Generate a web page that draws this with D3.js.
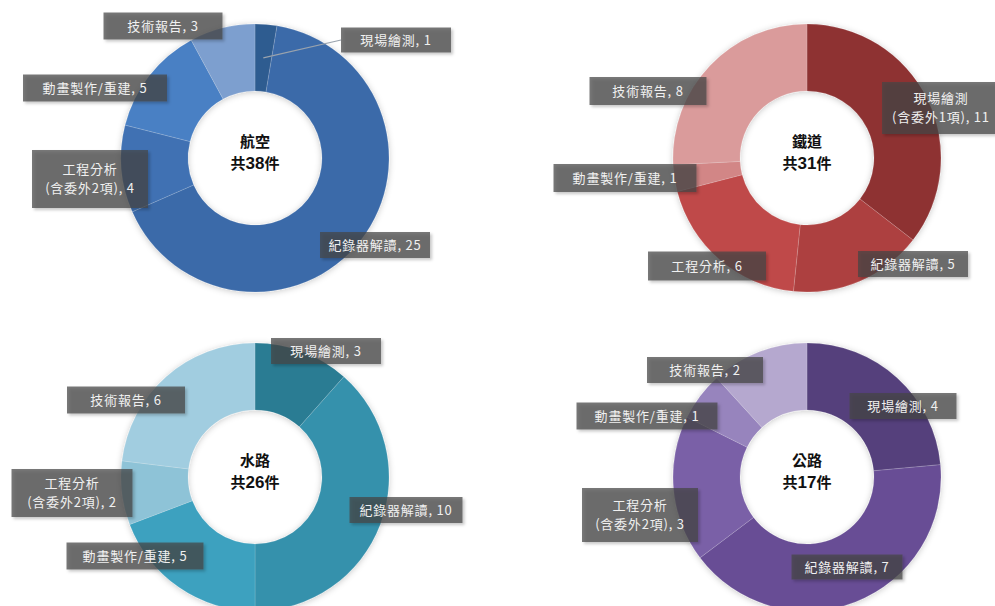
<!DOCTYPE html>
<html>
<head>
<meta charset="utf-8">
<script src="https://cdn.jsdelivr.net/npm/d3@7"></script>
<style>
  html, body { margin: 0; padding: 0; background: #fff; }
  svg { display: block; font-family: "Noto Sans CJK TC", "Noto Sans", sans-serif; }
</style>
</head>
<body>
<div id="chart"></div>
<script>
// chart values
const modes = ["航空", "鐵道", "水路", "公路"];

const aviationLabels = ["現場繪測", "紀錄器解讀", "工程分析\n(含委外2項)", "動畫製作/重建", "技術報告"];
const aviationValues = [1, 25, 4, 5, 3];

const railLabels = ["現場繪測\n(含委外1項)", "紀錄器解讀", "工程分析", "動畫製作/重建", "技術報告"];
const railValues = [11, 5, 6, 1, 8];

const waterLabels = ["現場繪測", "紀錄器解讀", "動畫製作/重建", "工程分析\n(含委外2項)", "技術報告"];
const waterValues = [3, 10, 5, 2, 6];

const roadLabels = ["現場繪測", "紀錄器解讀", "工程分析\n(含委外2項)", "動畫製作/重建", "技術報告"];
const roadValues = [4, 7, 3, 1, 2];

// styling / layout
const palettes = [
    ["#2e5b90", "#3b6aa9", "#3f71b3", "#4a80c4", "#7d9fcf"],
    ["#8e3233", "#ad403f", "#bf4a4a", "#d28686", "#da9b9b"],
    ["#2b7c93", "#3691ac", "#3ca1bf", "#8ec3d7", "#a1cde0"],
    ["#55417c", "#684e95", "#7a60a7", "#9784bd", "#b5a8cf"]
];

// label boxes, relative to donut center: [dx, dy, width, height, leader]
const labelBoxes = [
    [[141, -118, 110, 25, true], [120, 87, 110, 26], [-165, 21, 116, 58], [-160, -70, 144, 27], [-92, -132, 119, 27]],
    [[134, -50, 118, 52], [106, 106, 110, 26], [-100, 108, 118, 29], [-182, 20, 143, 28], [-159, -67, 117, 28]],
    [[71, -126, 110, 26], [151, 33, 113, 26], [-120, 79, 137, 27], [-183, 16, 121, 48], [-129, -77, 118, 27]],
    [[96, -71, 107, 26], [40, 90, 111, 25], [-167, 38, 116, 54], [-160, -61, 141, 27], [-102, -107, 116, 26]]
];

const charts = [
    {name: modes[0], labels: aviationLabels, values: aviationValues},
    {name: modes[1], labels: railLabels, values: railValues},
    {name: modes[2], labels: waterLabels, values: waterValues},
    {name: modes[3], labels: roadLabels, values: roadValues}
];

const width = 995, height = 606;
const outerR = 134, innerR = 67;
const colX = d3.scalePoint().domain([0, 1]).range([255, 807]);
const rowY = d3.scalePoint().domain([0, 1]).range([158, 477]);

const svg = d3.select("#chart").append("svg")
    .attr("width", width).attr("height", height);

const defs = svg.append("defs");
defs.append("filter").attr("id", "ringShadow")
    .attr("x", "-20%").attr("y", "-20%").attr("width", "140%").attr("height", "140%")
    .append("feDropShadow")
    .attr("dx", 0).attr("dy", 1).attr("stdDeviation", 3)
    .attr("flood-color", "#000").attr("flood-opacity", 0.22);
defs.append("filter").attr("id", "boxShadow")
    .attr("x", "-20%").attr("y", "-30%").attr("width", "140%").attr("height", "160%")
    .append("feDropShadow")
    .attr("dx", 2).attr("dy", 2).attr("stdDeviation", 1.5)
    .attr("flood-color", "#000").attr("flood-opacity", 0.3);

const pie = d3.pie().sort(null).value(d => d);
const arc = d3.arc().innerRadius(innerR).outerRadius(outerR);

charts.forEach((c, ci) => {
    const cx = colX(ci % 2), cy = rowY(Math.floor(ci / 2));
    const colors = palettes[ci];
    const g = svg.append("g").attr("transform", `translate(${cx},${cy})`);

    const arcs = pie(c.values);

    g.append("g").attr("filter", "url(#ringShadow)")
        .selectAll("path").data(arcs).enter().append("path")
        .attr("d", arc)
        .attr("fill", (d, i) => colors[i])
        .attr("stroke", "rgba(255,255,255,0.25)")
        .attr("stroke-width", 0.6);

    // center text
    const total = d3.sum(c.values);
    g.append("text")
        .attr("y", -16).attr("dy", "0.35em")
        .attr("text-anchor", "middle")
        .style("font-size", "15px").style("font-weight", "bold").attr("fill", "#111")
        .text(c.name);
    const t2 = g.append("text")
        .attr("y", 6).attr("dy", "0.35em")
        .attr("text-anchor", "middle")
        .style("font-size", "15px").style("font-weight", "bold").attr("fill", "#111");
    t2.append("tspan").text("共");
    t2.append("tspan").style("font-family", "Liberation Sans, Arial, sans-serif").style("font-size", "17px").text(total);
    t2.append("tspan").text("件");

    // labels
    const lbl = g.append("g").selectAll("g").data(arcs).enter().append("g");

    lbl.each(function(d, i) {
        const [dx, dy, w, h, leader] = labelBoxes[ci][i];
        const sel = d3.select(this);
        if (leader) {
            const [sx, sy] = arc.centroid(d);
            sel.append("line")
                .attr("x1", sx).attr("y1", sy)
                .attr("x2", dx - w / 2).attr("y2", dy)
                .attr("stroke", "#9aa3ad").attr("stroke-width", 1.2);
        }
        sel.append("rect")
            .attr("x", dx - w / 2).attr("y", dy - h / 2)
            .attr("width", w).attr("height", h)
            .attr("fill", "rgba(70,70,70,0.72)")
            .attr("filter", "url(#boxShadow)");
        const lines = c.labels[i].split("\n");
        lines[lines.length - 1] += ", " + d.data;
        const lh = 19;
        sel.append("text")
            .attr("text-anchor", "middle")
            .attr("fill", "#f0f0f0")
            .style("font-size", "13px")
            .style("letter-spacing", "0.8px")
            .selectAll("tspan").data(lines).enter().append("tspan")
            .attr("x", dx)
            .attr("y", (l, k) => dy + (k - (lines.length - 1) / 2) * lh)
            .attr("dy", "0.35em")
            .text(l => l);
    });
});
</script>
</body>
</html>
